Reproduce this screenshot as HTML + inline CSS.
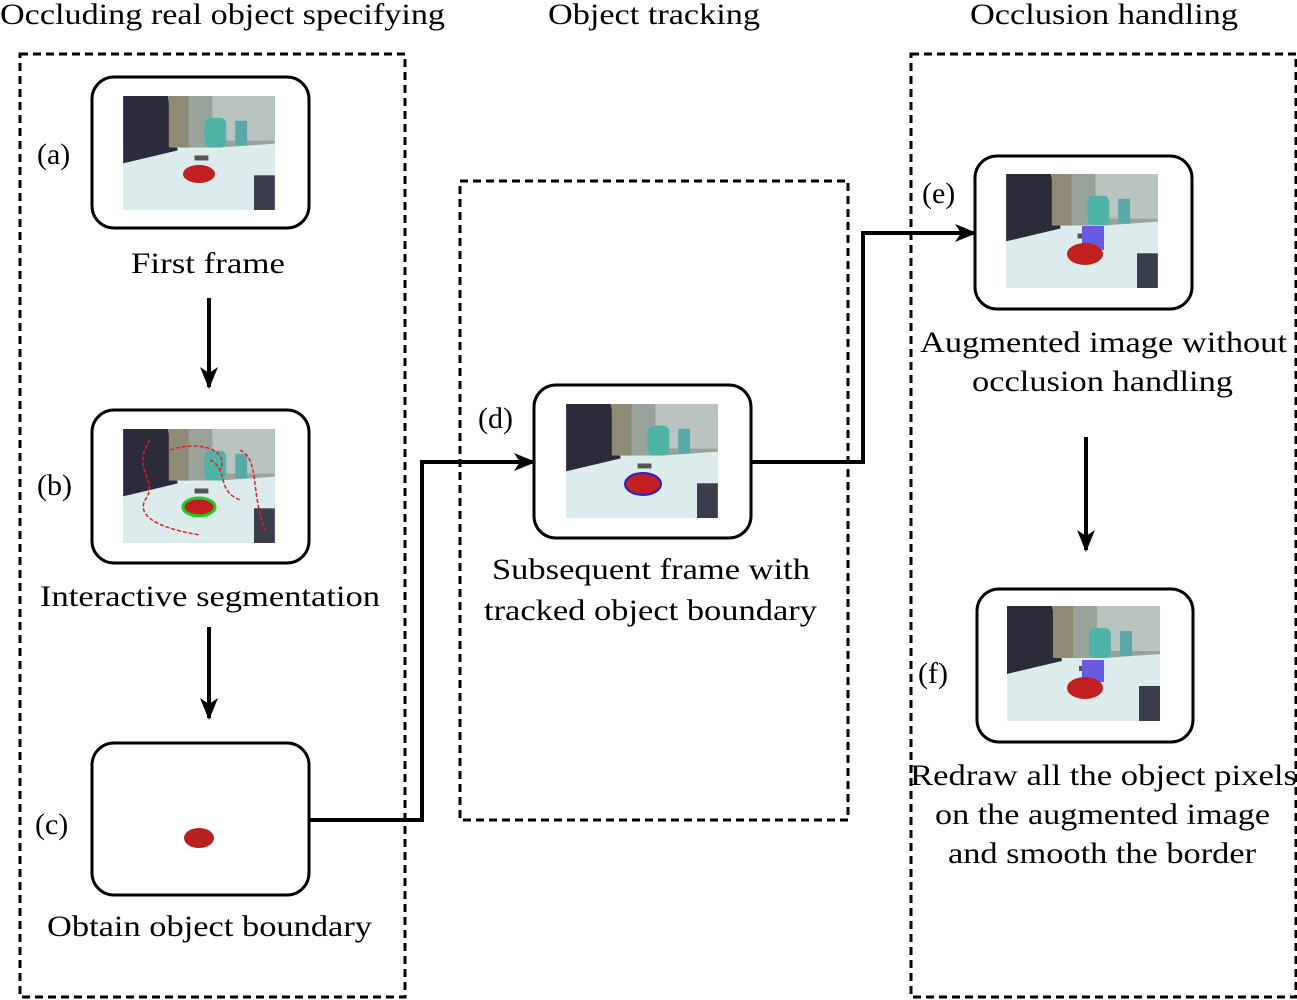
<!DOCTYPE html>
<html><head><meta charset="utf-8"><style>
html,body{margin:0;padding:0;background:#fff;}
svg{display:block;}
text{font-family:"Liberation Serif",serif;font-size:30px;fill:#000;}
</style></head><body>
<svg width="1297" height="1000" viewBox="0 0 1297 1000" xmlns="http://www.w3.org/2000/svg">
<defs>
<symbol id="scene" viewBox="0 0 153 115">
  <rect x="0" y="0" width="153" height="115" fill="#dfeeee"/>
  <rect x="0" y="0" width="153" height="52" fill="#9aa39a"/>
  <rect x="90" y="0" width="63" height="45" fill="#b9c4c0"/>
  <polygon points="0,0 45,0 55,55 0,68" fill="#2c2b3a"/>
  <rect x="46" y="0" width="20" height="52" fill="#8f8a75"/>
  <polygon points="0,68 55,55 153,48 153,115 0,115" fill="#dcebec"/>
  <rect x="82" y="22" width="22" height="30" rx="6" fill="#4fb3a8"/>
  <rect x="113" y="25" width="12" height="25" fill="#5aa8a8"/>
  <rect x="132" y="80" width="21" height="35" fill="#3a3d4a"/>
  <rect x="72" y="60" width="14" height="5" fill="#555"/>
</symbol>
<marker id="ah" markerWidth="22" markerHeight="18" refX="20" refY="9" orient="auto" markerUnits="userSpaceOnUse">
  <path d="M0,0 L22,9 L0,18 L6,9 Z" fill="#000"/>
</marker>
</defs>
<g fill="none" stroke="#000" stroke-width="3" stroke-dasharray="8,5">
  <rect x="20" y="54" width="385" height="943"/>
  <rect x="460" y="181" width="388" height="639"/>
  <rect x="911" y="54" width="385" height="943"/>
</g>
<text x="0" y="24" textLength="445" lengthAdjust="spacingAndGlyphs">Occluding real object specifying</text>
<text x="548" y="24" textLength="212" lengthAdjust="spacingAndGlyphs">Object tracking</text>
<text x="970" y="24" textLength="268" lengthAdjust="spacingAndGlyphs">Occlusion handling</text>
<g fill="#fff" stroke="#000" stroke-width="3">
  <rect x="92" y="77" width="217" height="151" rx="22"/>
  <rect x="92" y="410" width="217" height="153" rx="22"/>
  <rect x="92" y="743" width="217" height="152" rx="22"/>
  <rect x="534" y="385" width="217" height="153" rx="22"/>
  <rect x="975" y="156" width="217" height="153" rx="22"/>
  <rect x="977" y="589" width="216" height="153" rx="22"/>
</g>
<use href="#scene" x="122" y="96" width="154" height="114"/>
<ellipse cx="199" cy="174" rx="16" ry="9" fill="#c02020"/>
<use href="#scene" x="122" y="429" width="154" height="114"/>
<ellipse cx="199" cy="507" rx="16" ry="9" fill="#c02020" stroke="#2c2" stroke-width="3"/>
<path d="M150,440 C130,470 160,480 145,500 C135,520 170,530 200,535 M170,450 C200,440 230,450 220,470 M240,450 C260,460 250,490 265,530 M210,460 C230,470 215,490 240,500" fill="none" stroke="#e02020" stroke-width="1.5" stroke-dasharray="4,2"/>
<rect x="122" y="762" width="154" height="114" fill="#fff"/>
<ellipse cx="199" cy="838" rx="15" ry="10" fill="#b82020"/>
<use href="#scene" x="565" y="404" width="154" height="114"/>
<ellipse cx="643" cy="484" rx="18" ry="11" fill="#c02020" stroke="#22c" stroke-width="2"/>
<use href="#scene" x="1005" y="174" width="154" height="114"/>
<rect x="1082" y="226" width="22" height="24" fill="#6a5ae0"/>
<ellipse cx="1085" cy="254" rx="18" ry="11" fill="#c02020"/>
<use href="#scene" x="1005" y="606" width="157" height="115"/>
<rect x="1082" y="660" width="22" height="22" fill="#6a5ae0"/>
<ellipse cx="1085" cy="688" rx="18" ry="11" fill="#c02020"/>
<g stroke="#000" stroke-width="4" fill="none">
  <line x1="209" y1="298" x2="209" y2="387" marker-end="url(#ah)"/>
  <line x1="209" y1="627" x2="209" y2="718" marker-end="url(#ah)"/>
  <polyline points="309,820 422,820 422,462 534,462" marker-end="url(#ah)"/>
  <polyline points="751,462 863,462 863,233 975,233" marker-end="url(#ah)"/>
  <line x1="1086" y1="437" x2="1086" y2="550" marker-end="url(#ah)"/>
</g>
<text x="37" y="164">(a)</text>
<text x="37" y="495">(b)</text>
<text x="35" y="834">(c)</text>
<text x="478" y="428">(d)</text>
<text x="922" y="203">(e)</text>
<text x="918" y="683">(f)</text>
<text x="131" y="273" textLength="154" lengthAdjust="spacingAndGlyphs">First frame</text>
<text x="40" y="606" textLength="340" lengthAdjust="spacingAndGlyphs">Interactive segmentation</text>
<text x="47" y="936" textLength="325" lengthAdjust="spacingAndGlyphs">Obtain object boundary</text>
<text x="492" y="579" textLength="318" lengthAdjust="spacingAndGlyphs">Subsequent frame with</text>
<text x="484" y="620" textLength="333" lengthAdjust="spacingAndGlyphs">tracked object boundary</text>
<text x="920" y="352" textLength="367" lengthAdjust="spacingAndGlyphs">Augmented image without</text>
<text x="972" y="391" textLength="261" lengthAdjust="spacingAndGlyphs">occlusion handling</text>
<text x="910" y="785" textLength="387" lengthAdjust="spacingAndGlyphs">Redraw all the object pixels</text>
<text x="935" y="824" textLength="335" lengthAdjust="spacingAndGlyphs">on the augmented image</text>
<text x="948" y="863" textLength="308" lengthAdjust="spacingAndGlyphs">and smooth the border</text>
</svg>
</body></html>
